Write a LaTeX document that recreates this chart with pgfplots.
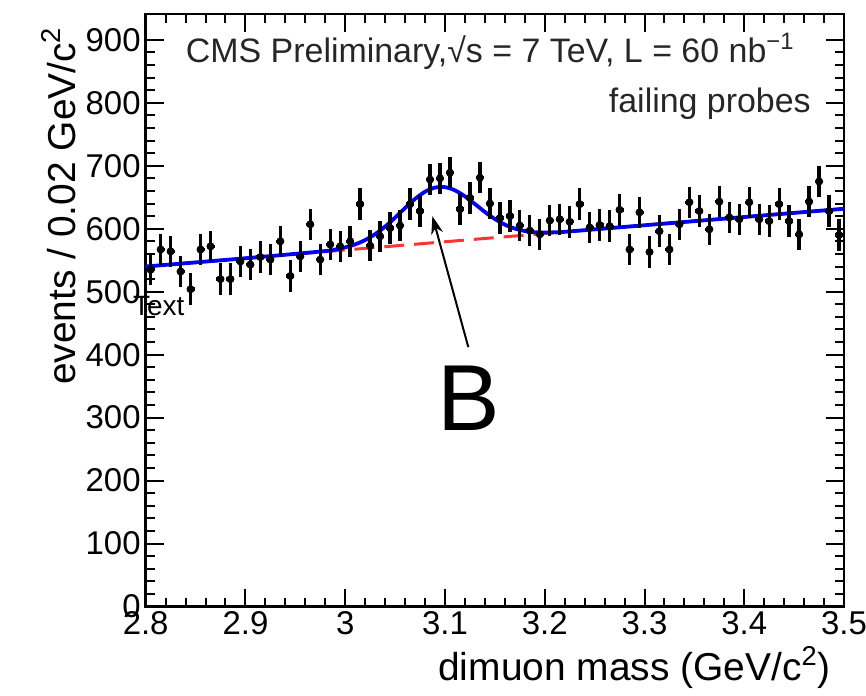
\documentclass[border=0pt]{standalone}
\usepackage{fontspec}
\setmainfont{Liberation Sans}
\usepackage{pgfplots}
\pgfplotsset{compat=1.18}
\usetikzlibrary{arrows.meta}

% dimuon mass spectrum, failing probes, 0.01 GeV bins
\pgfplotstableread{
x      y
2.805  535
2.815  567
2.825  564
2.835  532
2.845  504
2.855  567
2.865  572
2.875  520
2.885  520
2.895  548
2.905  543
2.915  555
2.925  551
2.935  580
2.945  525
2.955  556
2.965  607
2.975  551
2.985  575
2.995  572
3.005  580
3.015  639
3.025  573
3.035  588
3.045  601
3.055  605
3.065  639
3.075  628
3.085  678
3.095  680
3.105  689
3.115  631
3.125  649
3.135  681
3.145  640
3.155  617
3.165  620
3.175  605
3.185  597
3.195  591
3.205  613
3.215  615
3.225  611
3.235  639
3.245  602
3.255  606
3.265  604
3.275  630
3.285  567
3.295  626
3.305  563
3.315  596
3.325  567
3.335  607
3.345  642
3.355  628
3.365  599
3.375  643
3.385  618
3.395  615
3.405  642
3.415  615
3.425  612
3.435  639
3.445  612
3.455  591
3.465  643
3.475  675
3.485  628
3.495  590
}\datatable

% fitted signal + background
\pgfplotstableread{
x     y
2.80  540.0
2.90  553.1
2.98  564.5
2.99  567.0
3.00  570.3
3.01  575.1
3.02  582.0
3.03  591.4
3.04  603.4
3.05  617.6
3.06  632.9
3.07  647.3
3.08  658.7
3.09  665.3
3.10  666.0
3.11  660.9
3.12  651.4
3.13  639.2
3.14  626.6
3.15  615.4
3.16  606.5
3.17  600.2
3.18  596.4
3.19  594.5
3.20  594.0
3.21  594.3
3.22  595.1
3.30  605.5
3.40  618.6
3.50  631.7
}\fittable

\begin{document}
\begin{tikzpicture}
\path[use as bounding box] (-73pt,-44.5pt) rectangle (361pt,304pt);
\begin{axis}[
  width=350pt, height=297pt, scale only axis,
  xmin=2.8, xmax=3.5, ymin=0, ymax=941,
  xtick={2.8,2.9,3,3.1,3.2,3.3,3.4,3.5},
  ytick={0,100,200,300,400,500,600,700,800,900},
  minor x tick num=4, minor y tick num=4,
  tick pos=both, tick align=inside,
  major tick length=9pt, minor tick length=4.5pt,
  every tick/.style={black, line width=1pt},
  axis line style={line width=1.3pt},
  /pgf/number format/assume math mode=true,
  ticklabel style={font=\fontsize{16.5}{19}\selectfont},
  xticklabel style={yshift=1pt},
  yticklabel style={xshift=1pt},
  label style={font=\fontsize{19.5}{22}\selectfont},
  xlabel={dimuon mass (GeV/c\textsuperscript{2})},
  ylabel={events / 0.02 GeV/c\textsuperscript{2}},
  xlabel style={at={(axis description cs:0.991,-0.125)}, anchor=base east},
  ylabel style={at={(axis description cs:-0.10,0.99)}, anchor=base east},
  clip=false,
]
% background component
\addplot[red!80!white, line width=1.5pt, dash pattern=on 10pt off 5pt]
  coordinates {(2.8,540) (3.5,631.7)};
% full fit
\addplot[blue, line width=1.9pt, smooth] table[x=x, y=y] {\fittable};
% data
\addplot[only marks, mark=*, mark size=1.8pt, black,
  error bars/.cd, y dir=both, y fixed=25, x dir=both, x fixed=0.004,
  error mark=none, error bar style={line width=1.7pt, black}]
  table[x=x, y=y] {\datatable};

\node[anchor=base west, inner sep=0pt, font=\fontsize{17}{20}\selectfont, text=black!85]
  at (axis cs:2.84,864) {CMS Preliminary,√s = 7 TeV, L = 60 nb\textsuperscript{−1}};
\node[anchor=base east, inner sep=0pt, font=\fontsize{17}{20}\selectfont, text=black!85]
  at (axis cs:3.467,784) {failing probes};
\node[anchor=base west, inner sep=0pt, font=\fontsize{14}{16}\selectfont]
  at (axis cs:2.787,463) {Text};
\node[anchor=base west, inner sep=0pt, font=\fontsize{47}{50}\selectfont]
  at (axis cs:3.092,279) {B};
\draw[-{Stealth[length=9pt, width=6pt]}, line width=1pt, black]
  (axis cs:3.1234,412) -- (axis cs:3.0874,620);
\end{axis}
\end{tikzpicture}
\end{document}
